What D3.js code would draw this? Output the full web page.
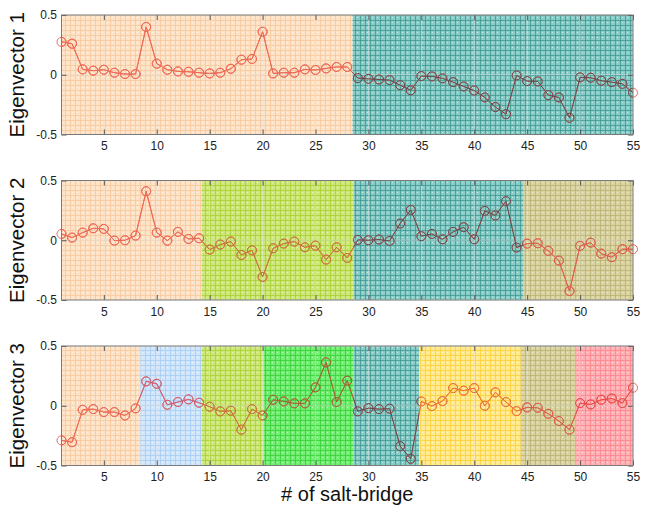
<!DOCTYPE html>
<html>
<head>
<meta charset="utf-8">
<script src="https://cdn.jsdelivr.net/npm/d3@7/dist/d3.min.js"></script>
<style>
body { margin: 0; background: #fff; }
svg { font-family: "Liberation Sans", Arial, Helvetica, sans-serif; }
</style>
</head>
<body>
<svg id="chart" width="653" height="507"></svg>
<script>

// salt-bridge numbers 1..55
const bridges = d3.range(1, 56);

// eigenvector components
const eig1 = [0.275, 0.26, 0.045, 0.034, 0.042, 0.017, 0.006, 0.006, 0.40, 0.093,
  0.042, 0.028, 0.025, 0.017, 0.011, 0.017, 0.05, 0.126, 0.132, 0.36,
  0.011, 0.017, 0.017, 0.045, 0.04, 0.053, 0.065, 0.065, -0.028, -0.034,
  -0.04, -0.045, -0.087, -0.13, -0.011, -0.014, -0.03, -0.062, -0.098, -0.132,
  -0.19, -0.27, -0.33, -0.006, -0.053, -0.056, -0.17, -0.19, -0.36, -0.022,
  -0.025, -0.05, -0.062, -0.076, -0.15];

const eig2 = [0.053, 0.022, 0.064, 0.10, 0.095, -0.003, 0, 0.039, 0.41, 0.064,
  -0.003, 0.07, 0.011, 0.017, -0.078, -0.036, -0.011, -0.123, -0.084, -0.307,
  -0.067, -0.028, -0.011, -0.059, -0.045, -0.162, -0.059, -0.148, 0.003, 0,
  0.006, -0.006, 0.14, 0.254, 0.034, 0.053, 0.008, 0.07, 0.109, 0.008,
  0.246, 0.207, 0.327, -0.061, -0.028, -0.025, -0.089, -0.17, -0.425, -0.047,
  -0.02, -0.112, -0.142, -0.075, -0.075];

const eig3 = [-0.29, -0.305, -0.034, -0.028, -0.053, -0.053, -0.081, -0.022, 0.204, 0.184,
  0.008, 0.031, 0.053, 0.025, -0.008, -0.047, -0.042, -0.20, -0.028, -0.081,
  0.05, 0.036, 0.02, 0.02, 0.154, 0.363, 0.031, 0.21, -0.047, -0.02,
  -0.028, -0.025, -0.338, -0.444, 0.036, -0.003, 0.039, 0.148, 0.126, 0.148,
  0, 0.112, 0.031, -0.045, -0.014, -0.017, -0.067, -0.128, -0.20, 0.022,
  0.011, 0.05, 0.061, 0.022, 0.151];

// shaded blocks: edges (salt-bridge units) and colour name of each block
const bounds1 = [1, 28.5, 55];
const blocks1 = ['orange', 'teal'];
const bounds2 = [1, 14.25, 28.6, 44.6, 55];
const blocks2 = ['orange', 'lime', 'teal', 'olive'];
const bounds3 = [1, 8.45, 14.25, 20.1, 28.6, 34.8, 44.4, 49.6, 55];
const blocks3 = ['orange', 'blue', 'lime', 'green', 'teal', 'yellow', 'olive', 'red'];

const xTicks = [5, 10, 15, 20, 25, 30, 35, 40, 45, 50, 55];
const yTicks = [-0.5, 0, 0.5];
const panelLabels = ['Eigenvector 1', 'Eigenvector 2', 'Eigenvector 3'];
const xTitle = '# of salt-bridge';

// colours for each block: background, hatch grid, and how the red line looks on it
const palette = {
  orange: {bg: '#fde3c8', grid: '#f8c494', line: '#ee6a58'},
  teal:   {bg: '#8accc7', grid: '#2f8f89', line: '#5e4c52'},
  lime:   {bg: '#cde77a', grid: '#a2cc24', line: '#c07a3a'},
  olive:  {bg: '#dad3a2', grid: '#b4ab6a', line: '#d85e4c'},
  blue:   {bg: '#d2e6fb', grid: '#9ec8f0', line: '#c8607a'},
  green:  {bg: '#74ee74', grid: '#2ccc2c', line: '#8a6e30'},
  yellow: {bg: '#ffea90', grid: '#ffcb26', line: '#ec7a30'},
  red:    {bg: '#ffb2b6', grid: '#ff7c84', line: '#e84a48'}
};
const baseLine = '#ee6a58';

// plot area geometry
const left = 61.5, right = 633;
const panelTops = [15, 180.5, 346];
const panelH = 119.5;

const svg = d3.select('#chart');
const defs = svg.append('defs');

// hatch patterns
for (const name of Object.keys(palette)) {
  const c = palette[name];
  const p = defs.append('pattern')
    .attr('id', 'pat-' + name)
    .attr('patternUnits', 'userSpaceOnUse')
    .attr('width', 5).attr('height', 5);
  p.append('rect').attr('width', 5).attr('height', 5).attr('fill', c.bg);
  p.append('rect').attr('width', 5).attr('height', 1).attr('fill', c.grid).attr('opacity', 0.65);
  p.append('rect').attr('width', 1).attr('height', 5).attr('fill', c.grid).attr('opacity', 0.65);
  p.append('rect').attr('x', 2).attr('y', 2).attr('width', 1).attr('height', 1)
    .attr('fill', '#fff').attr('opacity', 0.55);
}

const xScale = d3.scaleLinear().domain([1, 55]).range([left, right]);

const series = [eig1, eig2, eig3];
const allBounds = [bounds1, bounds2, bounds3];
const allBlocks = [blocks1, blocks2, blocks3];

series.forEach((vals, k) => {
  const top = panelTops[k];
  const yScale = d3.scaleLinear().domain([-0.5, 0.5]).range([top + panelH, top]);
  const g = svg.append('g');
  const bounds = allBounds[k];
  const blocks = allBlocks[k];

  // shaded blocks
  blocks.forEach((name, i) => {
    g.append('rect')
      .attr('x', xScale(bounds[i]))
      .attr('y', top)
      .attr('width', xScale(bounds[i + 1]) - xScale(bounds[i]))
      .attr('height', panelH)
      .attr('fill', 'url(#pat-' + name + ')');
  });

  // matlab style grid at major ticks
  g.append('g').selectAll('line').data(xTicks).join('line')
    .attr('x1', d => xScale(d)).attr('x2', d => xScale(d))
    .attr('y1', top).attr('y2', top + panelH)
    .attr('stroke', '#e6e6e6').attr('stroke-opacity', 0.55);
  g.append('g').selectAll('line').data(yTicks).join('line')
    .attr('x1', left).attr('x2', right)
    .attr('y1', d => yScale(d)).attr('y2', d => yScale(d))
    .attr('stroke', '#e6e6e6').attr('stroke-opacity', 0.55);

  const pts = bridges.map((b, i) => [b, vals[i]]);
  const line = d3.line().x(d => xScale(d[0])).y(d => yScale(d[1]));

  const drawSeries = (sel, colour) => {
    sel.append('path')
      .attr('d', line(pts))
      .attr('fill', 'none')
      .attr('stroke', colour)
      .attr('stroke-width', 1);
    sel.selectAll('circle').data(pts).join('circle')
      .attr('cx', d => xScale(d[0]))
      .attr('cy', d => yScale(d[1]))
      .attr('r', 4.5)
      .attr('fill', 'none')
      .attr('stroke', colour)
      .attr('stroke-width', 1);
  };

  // base red line, then recoloured copies clipped to each block
  drawSeries(g.append('g'), baseLine);
  blocks.forEach((name, i) => {
    const id = 'clip-' + k + '-' + i;
    defs.append('clipPath').attr('id', id)
      .append('rect')
      .attr('x', xScale(bounds[i]))
      .attr('y', top - 20)
      .attr('width', xScale(bounds[i + 1]) - xScale(bounds[i]))
      .attr('height', panelH + 40);
    const cg = g.append('g').attr('clip-path', 'url(#' + id + ')');
    drawSeries(cg, palette[name].line);
  });

  // axes: ticks point inward, labels only bottom and left
  const fmt = d => (d === 0 ? '0' : String(d));
  const axB = g.append('g').attr('transform', `translate(0,${top + panelH})`)
    .call(d3.axisBottom(xScale).tickValues(xTicks).tickSize(-5).tickPadding(7));
  const axT = g.append('g').attr('transform', `translate(0,${top})`)
    .call(d3.axisTop(xScale).tickValues(xTicks).tickSize(-5).tickFormat(''));
  const axL = g.append('g').attr('transform', `translate(${left},0)`)
    .call(d3.axisLeft(yScale).tickValues(yTicks).tickSize(-5).tickPadding(4.5).tickFormat(fmt));
  const axR = g.append('g').attr('transform', `translate(${right},0)`)
    .call(d3.axisRight(yScale).tickValues(yTicks).tickSize(-5).tickFormat(''));
  for (const ax of [axB, axT, axL, axR]) {
    ax.select('.domain').remove();
    ax.selectAll('line').attr('stroke', '#555');
    ax.selectAll('text').attr('fill', '#222').attr('font-size', 12)
      .attr('font-family', '"Liberation Sans", Arial, sans-serif');
  }

  // box
  g.append('rect')
    .attr('x', left).attr('y', top)
    .attr('width', right - left).attr('height', panelH)
    .attr('fill', 'none').attr('stroke', '#7a7a7a').attr('stroke-width', 1);

  // panel label
  g.append('text')
    .attr('transform', `translate(24,${top + panelH / 2}) rotate(-90)`)
    .attr('text-anchor', 'middle')
    .attr('font-size', 20.5)
    .attr('fill', '#111')
    .text(panelLabels[k]);
});

svg.append('text')
  .attr('x', (left + right) / 2)
  .attr('y', 501)
  .attr('text-anchor', 'middle')
  .attr('font-size', 20)
  .attr('fill', '#111')
  .text(xTitle);

</script>
</body>
</html>
